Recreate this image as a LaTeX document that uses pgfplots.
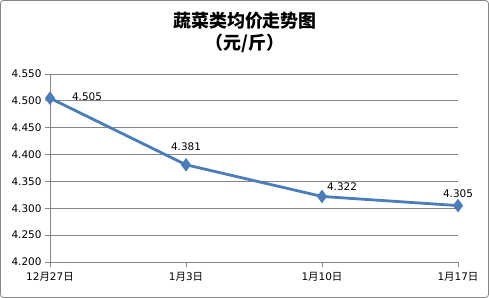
\documentclass[border=0pt]{standalone}
\usepackage{fontspec}
\usepackage{pgfplots}
\pgfplotsset{compat=1.18}
\setmainfont{DejaVu Sans}
\newfontfamily\cjk{Noto Sans CJK SC}
\definecolor{ln}{HTML}{4A7EBB}
\definecolor{gr}{HTML}{868686}
\begin{document}
\begin{tikzpicture}
\useasboundingbox (-50bp,-36bp) rectangle (439bp,262bp);
\draw[gr, rounded corners=3bp, line width=0.8bp] (-49.5bp,-35.5bp) rectangle (438.5bp,261.5bp);
\node[font=\cjk\bfseries\fontsize{18}{21}\selectfont] at (195bp,241bp) {蔬菜类均价走势图};
\node[font=\cjk\bfseries\fontsize{18}{21}\selectfont] at (195bp,219bp) {（元/斤）};
\begin{axis}[
  at={(0,0)}, anchor=south west,
  scale only axis, width=408bp, height=188bp,
  xmin=0, xmax=3, ymin=4.2, ymax=4.55,
  xtick={0,1,2,3},
  xticklabels={12{\cjk 月}27{\cjk 日},1{\cjk 月}3{\cjk 日},1{\cjk 月}10{\cjk 日},1{\cjk 月}17{\cjk 日}},
  ytick={4.2,4.25,4.3,4.35,4.4,4.45,4.5,4.55},
  yticklabel style={/pgf/number format/.cd, fixed, fixed zerofill, precision=3, assume math mode=true},
  xticklabel style={yshift=-2bp},
  ticklabel style={font=\fontsize{10.5}{12}\selectfont},
  axis lines*=left,
  axis line style={gr, line width=0.8bp},
  tick style={gr, line width=0.8bp},
  tick align=outside,
  major tick length=5bp,
  ymajorgrids,
  grid style={gr, line width=0.8bp},
  clip=false,
]
\addplot[ln, line width=2.8bp, mark=diamond*, mark size=4.5bp, mark options={solid, fill=ln}] coordinates {(0,4.505) (1,4.381) (2,4.322) (3,4.305)};
\addplot[draw=none, forget plot, nodes near coords, point meta=explicit symbolic,
  every node near coord/.style={anchor=center, xshift=37bp, yshift=1bp, font=\fontsize{10.5}{12}\selectfont}]
  coordinates {(0,4.505) [4.505]};
\addplot[draw=none, forget plot, nodes near coords, point meta=explicit symbolic,
  every node near coord/.style={anchor=center, xshift=0bp, yshift=18bp, font=\fontsize{10.5}{12}\selectfont}]
  coordinates {(1,4.381) [4.381]};
\addplot[draw=none, forget plot, nodes near coords, point meta=explicit symbolic,
  every node near coord/.style={anchor=center, xshift=20bp, yshift=10bp, font=\fontsize{10.5}{12}\selectfont}]
  coordinates {(2,4.322) [4.322]};
\addplot[draw=none, forget plot, nodes near coords, point meta=explicit symbolic,
  every node near coord/.style={anchor=center, xshift=0bp, yshift=12bp, font=\fontsize{10.5}{12}\selectfont}]
  coordinates {(3,4.305) [4.305]};
\end{axis}
\end{tikzpicture}
\end{document}
